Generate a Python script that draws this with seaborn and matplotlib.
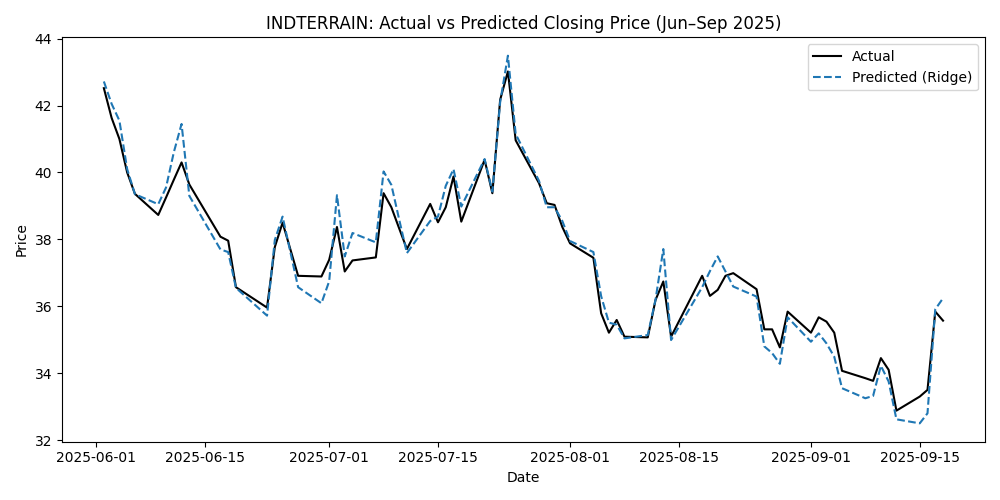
import matplotlib
matplotlib.use("Agg")
import matplotlib.pyplot as plt
import pandas as pd
import seaborn as sns

# Trading dates shown in the chart (Jun-Sep 2025)
DATES = [
    "2025-06-02", "2025-06-03", "2025-06-04", "2025-06-05", "2025-06-06",
    "2025-06-09", "2025-06-10", "2025-06-11", "2025-06-12", "2025-06-13",
    "2025-06-17", "2025-06-18", "2025-06-19", "2025-06-23", "2025-06-24",
    "2025-06-25", "2025-06-27", "2025-06-30", "2025-07-01", "2025-07-02",
    "2025-07-03", "2025-07-04", "2025-07-07", "2025-07-08", "2025-07-09",
    "2025-07-10", "2025-07-11", "2025-07-14", "2025-07-15", "2025-07-16",
    "2025-07-17", "2025-07-18", "2025-07-21", "2025-07-22", "2025-07-23",
    "2025-07-24", "2025-07-25", "2025-07-28", "2025-07-29", "2025-07-30",
    "2025-07-31", "2025-08-01", "2025-08-04", "2025-08-05", "2025-08-06",
    "2025-08-07", "2025-08-08", "2025-08-11", "2025-08-12", "2025-08-13",
    "2025-08-14", "2025-08-18", "2025-08-19", "2025-08-20", "2025-08-21",
    "2025-08-22", "2025-08-25", "2025-08-26", "2025-08-27", "2025-08-28",
    "2025-08-29", "2025-09-01", "2025-09-02", "2025-09-03", "2025-09-04",
    "2025-09-05", "2025-09-08", "2025-09-09", "2025-09-10", "2025-09-11",
    "2025-09-12", "2025-09-15", "2025-09-16", "2025-09-17", "2025-09-18",
]

ACTUAL = [
    42.52, 41.63, 41.00, 40.00, 39.36,
    38.73, 39.25, 39.78, 40.30, 39.64,
    38.08, 37.96, 36.57, 35.96, 37.77,
    38.50, 36.91, 36.89, 37.39, 38.37,
    37.04, 37.37, 37.46, 39.38, 38.96,
    38.33, 37.71, 39.06, 38.51, 38.96,
    39.88, 38.53, 40.38, 39.38, 42.17,
    43.02, 40.96, 39.68, 39.08, 39.03,
    38.37, 37.88, 37.45, 35.79, 35.21,
    35.59, 35.09, 35.07, 36.19, 36.74,
    35.09, 36.91, 36.31, 36.49, 36.91,
    36.99, 36.51, 35.31, 35.31, 34.77,
    35.84, 35.21, 35.67, 35.54, 35.21,
    34.07, 33.85, 33.77, 34.45, 34.10,
    32.88, 33.30, 33.50, 35.84, 35.57,
]

PREDICTED = [
    42.72, 42.05, 41.55, 40.10, 39.35,
    39.05, 39.55, 40.60, 41.45, 39.30,
    37.70, 37.62, 36.55, 35.72, 37.98,
    38.68, 36.57, 36.09, 36.75, 39.32,
    37.49, 38.19, 37.91, 40.03, 39.63,
    38.60, 37.59, 38.55, 38.68, 39.60,
    40.10, 38.98, 40.40, 39.43, 42.10,
    43.49, 41.15, 39.75, 38.96, 38.96,
    38.55, 37.95, 37.62, 36.30, 35.51,
    35.45, 35.04, 35.14, 36.20, 37.71,
    34.99, 36.57, 37.05, 37.49, 37.04,
    36.59, 36.29, 34.80, 34.60, 34.28,
    35.67, 34.94, 35.19, 34.89, 34.49,
    33.55, 33.25, 33.32, 34.22, 33.75,
    32.62, 32.50, 32.80, 35.91, 36.24,
]


def main():
    df = pd.DataFrame({
        "Date": pd.to_datetime(DATES),
        "Actual": ACTUAL,
        "Predicted": PREDICTED,
    })

    fig, ax = plt.subplots(figsize=(10, 5), dpi=100)
    sns.lineplot(data=df, x="Date", y="Actual", color="black", lw=1.5,
                 label="Actual", ax=ax)
    sns.lineplot(data=df, x="Date", y="Predicted", color="#1f77b4", lw=1.5,
                 linestyle="--", label="Predicted (Ridge)", ax=ax)

    ax.set_title("INDTERRAIN: Actual vs Predicted Closing Price (Jun\u2013Sep 2025)")
    ax.set_xlabel("Date")
    ax.set_ylabel("Price")
    ax.legend(loc="upper right")
    fig.tight_layout()
    fig.savefig("out.png", dpi=100)
    plt.close(fig)


if __name__ == "__main__":
    main()
